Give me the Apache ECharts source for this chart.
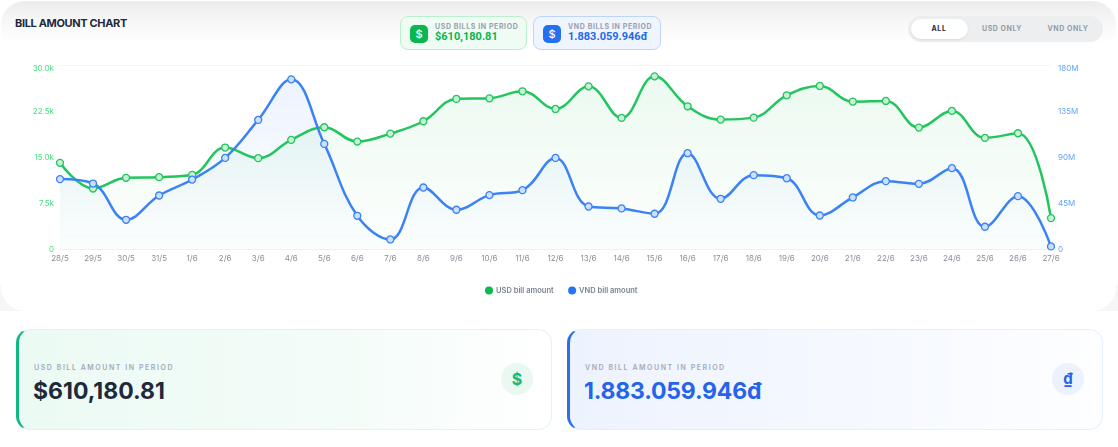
<!DOCTYPE html>
<html><head><meta charset="utf-8">
<script src="https://cdn.jsdelivr.net/npm/echarts@6/dist/echarts.min.js"></script>
<style>
html,body{margin:0;padding:0;width:1118px;height:447px;overflow:hidden;background:#fff;font-family:Inter,sans-serif}
div{box-sizing:border-box}
.abs{position:absolute}
#corner{left:0;top:285px;width:1118px;height:26px;background:#f5f7f7}
#card{left:1px;top:1px;width:1115px;height:310px;border-radius:24px;background:linear-gradient(180deg,#ececec 0,#f6f6f6 18px,#fff 42px,#fff 100%)}
#chart{left:0;top:0;width:1118px;height:320px}
#title{left:15px;top:16px;font-size:11px;font-weight:700;color:#1e293b;line-height:14px;letter-spacing:-.35px;white-space:nowrap}
.pill{top:16px;height:34px;border-radius:8px;border:1px solid}
.ico{top:25px;width:18px;height:18px;border-radius:5px;color:#fff;font-size:11px;font-weight:500;text-align:center;line-height:18px}
.pl{top:22px;font-size:7px;font-weight:700;color:#9aa1ad;letter-spacing:.6px;line-height:9px;white-space:nowrap}
.pv{top:30px;font-family:Roboto,sans-serif;font-size:11px;font-weight:700;line-height:14px;white-space:nowrap}
#seg{left:908px;top:16px;width:195px;height:26px;border-radius:13px;background:#eceef0}
#act{left:911px;top:19px;width:57px;height:20px;border-radius:10px;background:#fff;box-shadow:0 1px 2px rgba(0,0,0,.08)}
.st{top:24px;width:60px;text-align:center;font-size:7px;font-weight:700;color:#949cab;letter-spacing:.55px;line-height:10px;white-space:nowrap}
.kpi{top:329px;width:536px;height:101px;border-radius:14px;border:1px solid;border-left-width:3px}
.kl{top:363px;font-size:7px;font-weight:600;color:#a3aab5;letter-spacing:1.55px;line-height:9px;white-space:nowrap}
.kv{top:377px;font-size:23px;font-weight:700;line-height:28px;white-space:nowrap}
.ki{top:363px;width:32px;height:32px;border-radius:50%;text-align:center;line-height:32px;font-size:16px;font-weight:700}
</style></head><body>
<div class="abs" id="corner"></div>
<div class="abs" id="card"></div>
<div class="abs" id="title">BILL AMOUNT CHART</div>

<div class="abs pill" style="left:400px;width:127px;background:#effcf4;border-color:#bbf0cf"></div>
<div class="abs ico" style="left:410px;background:#0ab64f">$</div>
<div class="abs pl" style="left:435px">USD BILLS IN PERIOD</div>
<div class="abs pv" style="left:435px;color:#0ab44e">$610,180.81</div>

<div class="abs pill" style="left:533px;width:128px;background:#eff5ff;border-color:#bcd5fb"></div>
<div class="abs ico" style="left:543px;background:#2470ee">$</div>
<div class="abs pl" style="left:568px">VND BILLS IN PERIOD</div>
<div class="abs pv" style="left:568px;color:#2569e8">1.883.059.946đ</div>

<div class="abs" id="seg"></div>
<div class="abs" id="act"></div>
<div class="abs st" style="left:909px;color:#1e293b">ALL</div>
<div class="abs st" style="left:972px">USD ONLY</div>
<div class="abs st" style="left:1038px">VND ONLY</div>

<div class="abs" id="chart"></div>

<div class="abs kpi" style="left:16px;border-color:#dff5ee;border-left-color:#10b981;background:linear-gradient(90deg,#ecfaf4 0,#f3fcf8 60%,#fff 100%)"></div>
<div class="abs kl" style="left:34px">USD BILL AMOUNT IN PERIOD</div>
<div class="abs kv" style="left:33px;color:#1e293b">$610,180.81</div>
<div class="abs ki" style="left:501px;background:#e9f8f1;color:#10b981">$</div>

<div class="abs kpi" style="left:567px;border-color:#e6effd;border-left-color:#2b6fee;background:linear-gradient(90deg,#edf3fe 0,#f6f9ff 60%,#fdfeff 100%)"></div>
<div class="abs kl" style="left:585px">VND BILL AMOUNT IN PERIOD</div>
<div class="abs kv" style="left:584px;color:#2563eb;letter-spacing:-.2px">1.883.059.946đ</div>
<div class="abs ki" style="left:1052px;background:#ebf2fd;color:#2563eb;font-size:15px">₫</div>

<script>
const categories = ['28/5','29/5','30/5','31/5','1/6','2/6','3/6','4/6','5/6','6/6','7/6','8/6','9/6','10/6','11/6','12/6','13/6','14/6','15/6','16/6','17/6','18/6','19/6','20/6','21/6','22/6','23/6','24/6','25/6','26/6','27/6'];
const usdValues = [14080,9910,11640,11750,12130,16570,14840,17820,19870,17540,18840,20850,24480,24580,25720,22850,26530,21390,28160,23280,21120,21440,25070,26590,24040,24150,19820,22530,18140,18900,5090];
const vndMillions = [68.6,64.3,28.9,52.6,68.2,89.3,126.4,166.0,103.0,32.8,9.7,60.4,38.7,53.0,57.8,89.3,41.9,40.0,34.8,93.9,49.4,72.5,69.5,33.1,50.7,66.6,64.0,79.3,22.1,52.0,2.9];

const chart = echarts.init(document.getElementById('chart'), null, {renderer:'canvas'});
const font = 'Inter, sans-serif';
function area(r,g,b,a){return {color:new echarts.graphic.LinearGradient(0,0,0,1,[{offset:0,color:`rgba(${r},${g},${b},${a})`},{offset:1,color:`rgba(${r},${g},${b},0.01)`}])};}
function line(name,data,axis,color,fill,ar){return {
  name,type:'line',data,yAxisIndex:axis,smooth:0.4,symbol:'circle',symbolSize:7,showSymbol:true,
  lineStyle:{color,width:2.5},itemStyle:{color:fill,borderColor:color,borderWidth:1.3},areaStyle:ar,animation:false};}
chart.setOption({
  animation:false,
  grid:{left:60,right:67,top:65,height:184.4,containLabel:false},
  legend:{left:480,top:281.5,icon:'circle',itemWidth:8,itemHeight:8,itemGap:14.5,
    textStyle:{fontFamily:font,fontSize:7.5,fontWeight:600,color:'#7b8290',padding:[0,0,0,-2]},
    data:[{name:'USD bill amount',itemStyle:{color:'#08bb4c',borderWidth:0}},{name:'VND bill amount',itemStyle:{color:'#2673f5',borderWidth:0}}]},
  xAxis:{type:'category',data:categories,boundaryGap:false,
    axisLine:{lineStyle:{color:'#f0f1f3',width:1}},axisTick:{show:false},
    axisLabel:{interval:0,margin:5,fontFamily:font,fontSize:8,color:'#8a8f98'}},
  yAxis:[
    {type:'value',min:0,max:30000,interval:7500,axisLine:{show:false},axisTick:{show:false},
     splitLine:{show:true,lineStyle:{color:['#f4f5f6','rgba(0,0,0,0)','rgba(0,0,0,0)','rgba(0,0,0,0)','#f4f5f6']}},
     axisLabel:{margin:6,fontFamily:font,fontSize:8,color:'#4ade80',verticalAlignMaxLabel:'top',
       formatter:v=>v===0?'0':(v/1000).toFixed(1)+'k'}},
    {type:'value',min:0,max:180,interval:45,position:'right',axisLine:{show:false},axisTick:{show:false},splitLine:{show:false},
     axisLabel:{margin:7,fontFamily:font,fontSize:8,color:'#60a5fa',verticalAlignMaxLabel:'top',
       formatter:v=>v===0?'0':v+'M'}}
  ],
  series:[
    line('USD bill amount',usdValues,0,'#22c55e','#c8f0d6',area(34,197,94,0.13)),
    line('VND bill amount',vndMillions,1,'#3b82f6','#cfe0fc',area(59,130,246,0.13))
  ]
});
</script>
</body></html>
